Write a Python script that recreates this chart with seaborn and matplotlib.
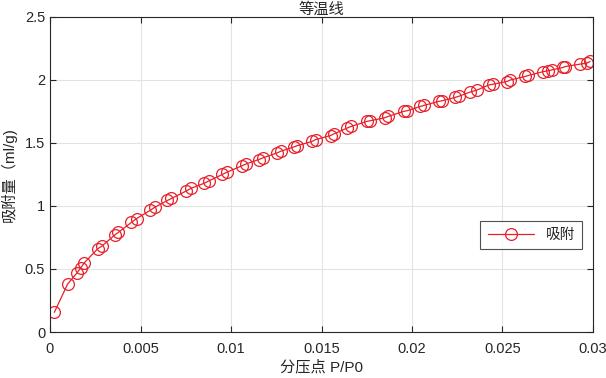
import matplotlib
matplotlib.use("Agg")
import matplotlib.pyplot as plt
import seaborn as sns
import pandas as pd
from matplotlib.ticker import FuncFormatter, MultipleLocator

# data
pressure = [0.00024, 0.00097, 0.0015, 0.0017, 0.0019, 0.00263, 0.00285, 0.00358, 0.00377,
            0.0045, 0.00478, 0.00553, 0.00579, 0.00649, 0.00671, 0.00754, 0.00778,
            0.00851, 0.00879, 0.00952, 0.0098, 0.01063, 0.01085, 0.01154, 0.01176,
            0.01256, 0.01274, 0.01347, 0.01366, 0.01449, 0.01467, 0.0155, 0.01568,
            0.01642, 0.01665, 0.01752, 0.0177, 0.01849, 0.01868, 0.01954, 0.01973,
            0.02046, 0.02065, 0.02147, 0.02166, 0.02239, 0.02257, 0.02322, 0.02359,
            0.02423, 0.0245, 0.02524, 0.02543, 0.02625, 0.02643, 0.02726, 0.02754,
            0.02772, 0.02836, 0.02846, 0.02929, 0.02966, 0.02984]
adsorption = [0.156, 0.38, 0.47, 0.51, 0.55, 0.66, 0.68, 0.77, 0.79,
              0.87, 0.90, 0.965, 0.99, 1.044, 1.06, 1.12, 1.14,
              1.18, 1.20, 1.25, 1.27, 1.321, 1.335, 1.369, 1.382,
              1.422, 1.434, 1.469, 1.479, 1.513, 1.527, 1.559, 1.572,
              1.619, 1.632, 1.672, 1.677, 1.70, 1.711, 1.751, 1.756,
              1.79, 1.798, 1.83, 1.835, 1.862, 1.87, 1.905, 1.92,
              1.96, 1.967, 1.988, 2.0, 2.028, 2.036, 2.067, 2.073,
              2.08, 2.10, 2.107, 2.126, 2.134, 2.147]
series_name = "吸附"
title = "等温线"
xlabel = "分压点 P/P0"
ylabel = "吸附量（ml/g)"

df = pd.DataFrame({"x": pressure, "y": adsorption, "s": series_name})

sns.set_theme(style="white")
plt.rcParams["font.family"] = ["Liberation Sans", "Noto Sans CJK SC", "DejaVu Sans"]

fig = plt.figure(figsize=(6.06, 3.78), dpi=100)
ax = fig.add_axes([50 / 606, 1 - 332 / 378, 543 / 606, 315 / 378])

sns.lineplot(data=df, x="x", y="y", hue="s", palette=["#e8202a"], sort=False,
             marker="o", markersize=8.5, markerfacecolor="none", markeredgecolor="#e8202a",
             markeredgewidth=0.9, linewidth=0.9, ax=ax)

ax.set_xlim(0, 0.03)
ax.set_ylim(0, 2.5)
ax.xaxis.set_major_locator(MultipleLocator(0.005))
ax.yaxis.set_major_locator(MultipleLocator(0.5))
fmt = FuncFormatter(lambda v, p: "%g" % round(v, 6))
ax.xaxis.set_major_formatter(fmt)
ax.yaxis.set_major_formatter(fmt)

ax.grid(True, color="#e3e3e3", linewidth=0.8)
ax.set_axisbelow(True)
for sp in ax.spines.values():
    sp.set_color("#262626")
    sp.set_linewidth(0.8)
ax.tick_params(direction="in", length=4, width=0.8, color="#262626",
               labelcolor="#262626", labelsize=10.5, top=True, right=True,
               bottom=True, left=True)
ax.tick_params(axis="x", pad=7)

ax.set_title(title, fontsize=11, color="#262626", pad=2)
ax.set_xlabel(xlabel, fontsize=11, color="#262626", labelpad=3)
ax.set_ylabel(ylabel, fontsize=11, color="#262626", labelpad=6)

leg = ax.legend(loc="lower right", bbox_to_anchor=(0.994, 0.24), fontsize=10.5,
                frameon=True, fancybox=False, edgecolor="#262626",
                handlelength=3.2, borderpad=0.5)
leg.get_frame().set_linewidth(0.8)

fig.savefig("out.png", dpi=100)
